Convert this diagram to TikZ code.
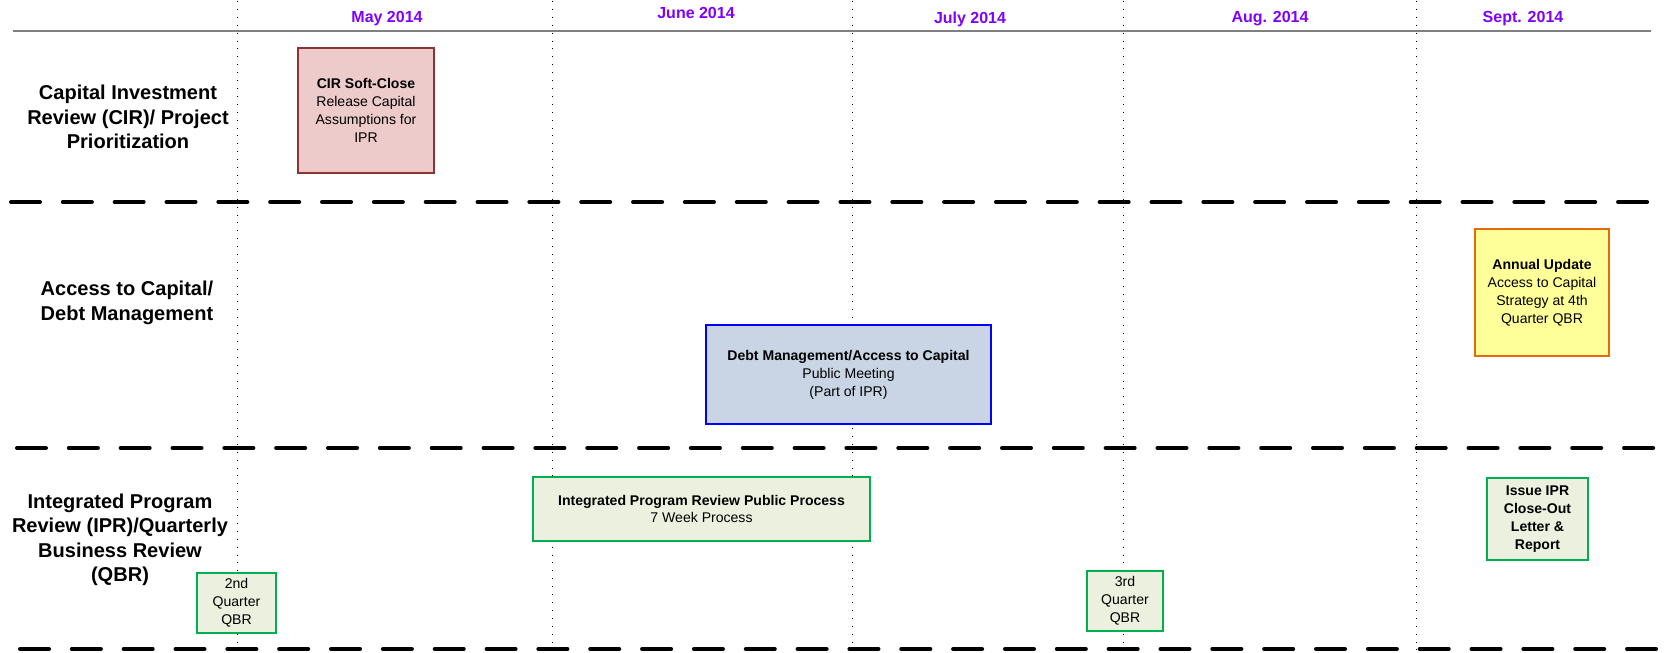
\documentclass[tikz,border=0pt]{standalone}
\usepackage{fontspec}
\setmainfont{Liberation Sans}
\usepackage{tikz}
\usetikzlibrary{positioning}
\usepackage{xcolor}

\definecolor{monthcol}{RGB}{127,0,255}
\definecolor{cirfill}{RGB}{237,203,203}
\definecolor{cirline}{RGB}{140,52,52}
\definecolor{debtfill}{RGB}{201,213,229}
\definecolor{debtline}{RGB}{0,0,255}
\definecolor{annfill}{RGB}{255,255,153}
\definecolor{annline}{RGB}{227,108,9}
\definecolor{iprfill}{RGB}{235,241,222}
\definecolor{iprline}{RGB}{0,176,80}

\begin{document}
\begin{tikzpicture}[
  lane/.style={font=\fontsize{11.4}{13.9}\selectfont\bfseries, align=center},
  month/.style={font=\fontsize{9.1}{11}\selectfont\bfseries, text=monthcol},
  task/.style={rectangle, draw, inner sep=0pt, align=center, font=\fontsize{8}{10.2}\selectfont},
  cirbox/.style={task, fill=cirfill, draw=cirline, line width=1.3pt},
  debtbox/.style={task, fill=debtfill, draw=debtline, line width=1.5pt},
  annbox/.style={task, fill=annfill, draw=annline, line width=1.5pt},
  iprbox/.style={task, fill=iprfill, draw=iprline, line width=1.4pt},
  divider/.style={line width=2.3pt, line cap=round, dash pattern=on 16.5pt off 13pt},
  monthsep/.style={line width=0.5pt, dash pattern=on 0.5pt off 4pt}
]
  \useasboundingbox (0,0) rectangle (33.46,13.04);

  % month grid
  \foreach \x in {4.74, 11.04, 17.04, 22.46, 28.32}
    \draw[monthsep] (\x,13.02) -- (\x,0.04);
  \draw[gray, line width=0.9pt] (0.26,12.42) -- (33.02,12.42);

  \node[month] (may)  at (7.74,12.66)  {May 2014};
  \node[month] (june) at (13.92,12.78) {June 2014};
  \node[month] (july) at (19.40,12.66) {July 2014};
  \node[month] (aug)  at (25.40,12.66) {Aug. 2014};
  \node[month] (sept) at (30.46,12.66) {Sept. 2014};

  % swim lanes
  \draw[divider] (0.22,9.00) -- (33.24,9.00);
  \draw[divider] (0.34,4.08) -- (33.24,4.08);
  \draw[divider] (0.40,0.06) -- (33.24,0.06);

  \node[lane] (lanecir)  at (2.56,10.70) {Capital Investment\\Review (CIR)/ Project\\Prioritization};
  \node[lane] (lanedebt) at (2.54,6.98)  {Access to Capital/\\Debt Management};
  \node[lane] (laneipr)  at (2.40,2.24)  {Integrated Program\\Review (IPR)/Quarterly\\Business Review\\(QBR)};

  % milestones
  \node[cirbox, minimum width=2.72cm, minimum height=2.50cm] (cir) at (7.32,10.83)
    {\textbf{CIR Soft-Close}\\Release Capital\\Assumptions for\\IPR};
  \node[debtbox, minimum width=5.70cm, minimum height=1.98cm] (debt) at (16.97,5.55)
    {\textbf{Debt Management/Access to Capital}\\Public Meeting\\(Part of IPR)};
  \node[annbox, minimum width=2.68cm, minimum height=2.54cm] (annual) at (30.84,7.19)
    {\textbf{Annual Update}\\Access to Capital\\Strategy at 4th\\Quarter QBR};
  \node[iprbox, minimum width=6.74cm, minimum height=1.28cm] (iprproc) at (14.03,2.86)
    {\textbf{Integrated Program Review Public Process}\\7 Week Process};
  \node[iprbox, minimum width=1.58cm, minimum height=1.20cm] (qbrtwo) at (4.73,0.98)
    {2nd\\Quarter\\QBR};
  \node[iprbox, minimum width=1.52cm, minimum height=1.20cm] (qbrthree) at (22.50,1.02)
    {3rd\\Quarter\\QBR};
  \node[iprbox, minimum width=2.02cm, minimum height=1.64cm, font=\fontsize{8}{10.2}\selectfont\bfseries] (closeout) at (30.75,2.66)
    {Issue IPR\\Close-Out\\Letter \&\\Report};
\end{tikzpicture}
\end{document}
